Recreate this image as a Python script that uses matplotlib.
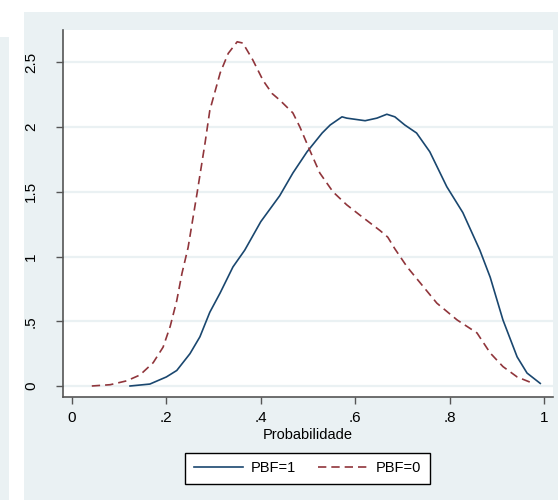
import numpy as np
import matplotlib.pyplot as plt
from matplotlib.patches import Rectangle

# densidade PBF=1 (linha continua)
x_pbf1 = [0.123, 0.165, 0.20, 0.222, 0.25, 0.271, 0.292, 0.314, 0.341, 0.366, 0.40, 0.44,
          0.468, 0.498, 0.53, 0.547, 0.572, 0.582, 0.621, 0.646, 0.667, 0.684, 0.705, 0.73,
          0.758, 0.794, 0.828, 0.864, 0.886, 0.913, 0.943, 0.964, 0.992]
y_pbf1 = [0.0, 0.015, 0.07, 0.12, 0.25, 0.38, 0.57, 0.72, 0.92, 1.05, 1.27, 1.47,
          1.646, 1.81, 1.955, 2.017, 2.08, 2.07, 2.05, 2.07, 2.10, 2.08, 2.017, 1.955,
          1.81, 1.54, 1.34, 1.05, 0.84, 0.51, 0.225, 0.10, 0.02]

# densidade PBF=0 (tracejada)
x_pbf0 = [0.042, 0.081, 0.116, 0.144, 0.172, 0.193, 0.208, 0.222, 0.233, 0.246, 0.265, 0.282,
          0.292, 0.314, 0.331, 0.35, 0.362, 0.383, 0.405, 0.424, 0.44, 0.468, 0.483, 0.504,
          0.525, 0.553, 0.582, 0.61, 0.653, 0.669, 0.684, 0.71, 0.737, 0.773, 0.816, 0.858,
          0.886, 0.913, 0.943, 0.977]
y_pbf0 = [0.0, 0.01, 0.04, 0.085, 0.18, 0.30, 0.46, 0.66, 0.87, 1.07, 1.49, 1.88,
          2.13, 2.42, 2.57, 2.66, 2.65, 2.52, 2.36, 2.26, 2.21, 2.11, 2.0, 1.82,
          1.646, 1.50, 1.40, 1.32, 1.2, 1.15, 1.06, 0.92, 0.80, 0.64, 0.51, 0.41,
          0.255, 0.15, 0.07, 0.02]

xticks = [0, 0.2, 0.4, 0.6, 0.8, 1.0]
xtick_labels = ['0', '.2', '.4', '.6', '.8', '1']
yticks = [0, 0.5, 1, 1.5, 2, 2.5]
ytick_labels = ['0', '.5', '1', '1.5', '2', '2.5']

plt.rcParams['font.family'] = ['Liberation Sans', 'DejaVu Sans']

W, H = 558, 500
fundo = '#eaf1f3'
fig = plt.figure(figsize=(W / 100, H / 100), dpi=100)
fig.patch.set_facecolor('white')
# faixas cinzas do graphregion
fig.patches.append(Rectangle((0, 0), 9 / W, 1 - 37 / H, transform=fig.transFigure,
                             facecolor=fundo, edgecolor='none', zorder=-10))
fig.patches.append(Rectangle((24 / W, 0), 1 - 24 / W, 1 - 12 / H, transform=fig.transFigure,
                             facecolor=fundo, edgecolor='none', zorder=-10))

ax = fig.add_axes([63 / W, 1 - 397 / H, 490 / W, 367 / H])
ax.set_facecolor('white')

ax.plot(x_pbf1, y_pbf1, color='#1a476f', lw=1.2, label='PBF=1')
ax.plot(x_pbf0, y_pbf0, color='#90353b', lw=1.2, dashes=(5, 3), label='PBF=0')

ax.set_xlim(-0.019, 1.019)
ax.set_ylim(-0.085, 2.751)
ax.set_xticks(xticks)
ax.set_xticklabels(xtick_labels)
ax.set_yticks(yticks)
ax.set_yticklabels(ytick_labels, rotation=90, va='center')
ax.tick_params(axis='both', labelsize=11, length=5, color='#555555', width=1)
ax.tick_params(axis='y', pad=13)
ax.tick_params(axis='x', pad=5)
ax.grid(axis='y', color=fundo, lw=1.6)
ax.set_axisbelow(True)
for s in ['top', 'right']:
    ax.spines[s].set_visible(False)
for s in ['left', 'bottom']:
    ax.spines[s].set_color('#555555')
    ax.spines[s].set_linewidth(1.2)

ax.set_xlabel('Probabilidade', fontsize=10.5, labelpad=2)

leg = ax.legend(loc='center', bbox_to_anchor=(307.5 / W, 1 - 468.5 / H),
                bbox_transform=fig.transFigure, ncol=2, fontsize=10.5, frameon=True,
                fancybox=False, edgecolor='black', facecolor='white', framealpha=1,
                handlelength=3.4, handletextpad=0.55, columnspacing=1.5, borderpad=0.6)
leg.get_frame().set_linewidth(1.0)

fig.savefig('out.png', dpi=100, facecolor=fig.get_facecolor())
